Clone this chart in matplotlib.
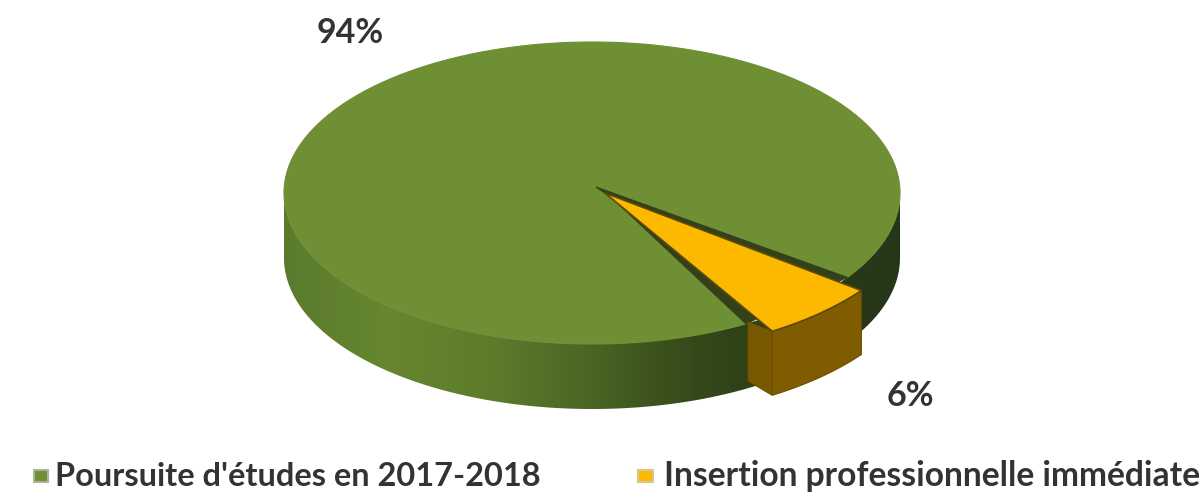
import numpy as np
import matplotlib
matplotlib.use("Agg")
import matplotlib.pyplot as plt
from matplotlib.colors import LinearSegmentedColormap
from matplotlib.patches import Polygon, Rectangle

categories = ["Poursuite d'études en 2017-2018", "Insertion professionnelle immédiate"]
values = [94, 6]
pct_labels = ["94%", "6%"]

plt.rcParams["font.family"] = ["Lato", "DejaVu Sans"]

fig = plt.figure(figsize=(12.04, 4.93), dpi=100)
ax = fig.add_axes([0, 0, 1, 1])
ax.set_xlim(0, 1204)
ax.set_ylim(493, 0)
ax.axis("off")

# pie ellipse in pixels
cx, cy, rx, ry = 592, 193, 308, 151
depth = 65
# the yellow slice is pulled out, so it gets its own ellipse
ycx, ycy, yrx, yry = 605, 193, 321, 162
ydepth = 64
start = np.radians(37)
sweep = 2 * np.pi * values[1] / sum(values)
a0, a1 = start, start + sweep


def ell(t, x0=cx, y0=cy, a=rx, b=ry):
    return x0 + a * np.cos(t), y0 + b * np.sin(t)


# side wall, lit on the left and dark towards the right
side_cm = LinearSegmentedColormap.from_list(
    "side", ["#5a7a2e", "#66872f", "#5d7c2b", "#4a6524", "#34491a", "#2a3b15", "#26361a"])
t = np.linspace(0, np.pi, 300)
xs, ys = ell(t)
verts = list(zip(xs, ys + depth)) + list(zip(xs[::-1], ys[::-1]))
clip = Polygon(verts, closed=True, facecolor="none", edgecolor="none")
ax.add_patch(clip)
grad = np.linspace(0, 1, 256).reshape(1, -1)
im = ax.imshow(grad, extent=[cx - rx, cx + rx, cy + ry + depth, cy], cmap=side_cm, aspect="auto", zorder=1)
im.set_clip_path(clip)
ax.set_xlim(0, 1204)
ax.set_ylim(493, 0)

# top of the big slice, with a dark shadow in the notch under the yellow one
t = np.linspace(np.radians(60), np.radians(34) + 2 * np.pi, 500)
xs, ys = ell(t)
ax.add_patch(Polygon([(612, 198)] + list(zip(xs, ys)), closed=True, facecolor="#6f8f34", edgecolor="#6f8f34", lw=0.8, zorder=2))
ax.add_patch(Polygon([(596, 187), (612, 198), (xs[0], ys[0]), (xs[-1], ys[-1])], closed=True, facecolor="#33401a", edgecolor="#33401a", lw=0.8, zorder=2))

# brown outer wall and inner face of the yellow slice
t = np.linspace(a0, a1, 40)
xs, ys = ell(t, ycx, ycy, yrx, yry)
wall = list(zip(xs, ys)) + list(zip(xs[::-1], ys[::-1] + ydepth))
ax.add_patch(Polygon(wall, closed=True, facecolor="#7f5c00", edgecolor="#6b4e00", lw=0.8, zorder=3))
face = [(xs[-1], ys[-1]), (748, 322), (748, 381), (xs[-1], ys[-1] + ydepth)]
ax.add_patch(Polygon(face, closed=True, facecolor="#7a5800", edgecolor="#6b4e00", lw=0.8, zorder=3))

# yellow top
ax.add_patch(Polygon([(ycx, ycy)] + list(zip(xs, ys)), closed=True, facecolor="#fdb900", edgecolor="#5a4a08", lw=1.2, zorder=4))

ax.text(350, 33, pct_labels[0], fontsize=24.5, fontweight="bold", color="#333333", ha="center", va="center")
ax.text(910, 396, pct_labels[1], fontsize=24.5, fontweight="bold", color="#333333", ha="center", va="center")

# legend
ax.add_patch(Rectangle((34, 470), 14, 12, facecolor="#6f8f34", edgecolor="#a9b596", lw=1.5))
ax.text(55, 476, categories[0], fontsize=23.4, fontweight="bold", color="#333333", ha="left", va="center")
ax.add_patch(Rectangle((638, 470), 15, 12, facecolor="#fdb900", edgecolor="#d8c68f", lw=1.5))
ax.text(664, 476, categories[1], fontsize=24.2, fontweight="bold", color="#333333", ha="left", va="center")

fig.savefig("out.png", dpi=100)
